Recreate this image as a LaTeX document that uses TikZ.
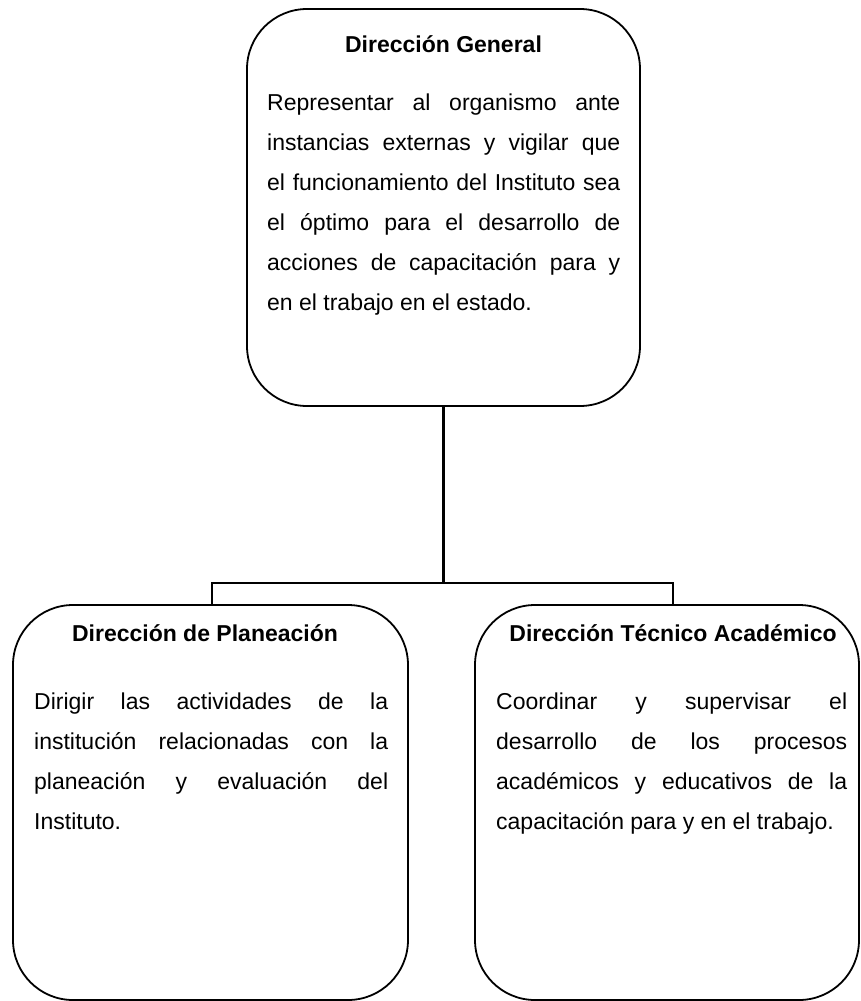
\documentclass[tikz,border=0pt]{standalone}
\usepackage{fontspec}
\setmainfont{Liberation Sans}
\begin{document}
\tolerance=10000\pretolerance=-1\hyphenpenalty=10000
\begin{tikzpicture}[x=1pt,y=-1pt,
  box/.style={draw, line width=1.8pt, rounded corners=60pt, rectangle, inner sep=0pt},
  conn/.style={line width=2.6pt},
  ttl/.style={font=\fontsize{23}{40}\selectfont\bfseries, anchor=base, inner sep=0pt},
  body/.style={font=\fontsize{23}{40}\selectfont, anchor=base west, inner sep=0pt, align=justify, text width=#1}]
\useasboundingbox (0,0) rectangle (860,1001);
% top box
\node[box, minimum width=393pt, minimum height=397pt] (dg) at (443.5,207.5) {};
\node[ttl] (dgt) at (443.5,52) {Dirección General};
\node[body=353pt] (dgb) at (267,110) {Representar al organismo ante\linebreak instancias externas y vigilar que\linebreak el funcionamiento del Instituto sea\linebreak el óptimo para el desarrollo de\linebreak acciones de capacitación para y\linebreak en el trabajo en el estado.};
% left box
\node[box, minimum width=395pt, minimum height=395pt] (dp) at (210.5,802.5) {};
\node[ttl] (dpt) at (205,641) {Dirección de Planeación};
\node[body=354pt] (dpb) at (34,709) {Dirigir las actividades de la\linebreak institución relacionadas con la\linebreak planeación y evaluación del\linebreak Instituto.};
% right box
\node[box, minimum width=384pt, minimum height=395pt] (dt) at (667,802.5) {};
\node[ttl] (dtt) at (673,641) {Dirección Técnico Académico};
\node[body=351pt] (dtb) at (496,709) {Coordinar y supervisar el\linebreak desarrollo de los procesos\linebreak académicos y educativos de la\linebreak capacitación para y en el trabajo.};
% connectors
\coordinate (bar) at (0,583);
\coordinate (pl) at ([xshift=1.5pt]dp.north);
\coordinate (pr) at ([xshift=6pt]dt.north);
\draw[conn] (dg.south) -- (dg.south |- bar);
\draw[conn] (pl) -- (pl |- bar) -- (pr |- bar) -- (pr);
\end{tikzpicture}
\end{document}
